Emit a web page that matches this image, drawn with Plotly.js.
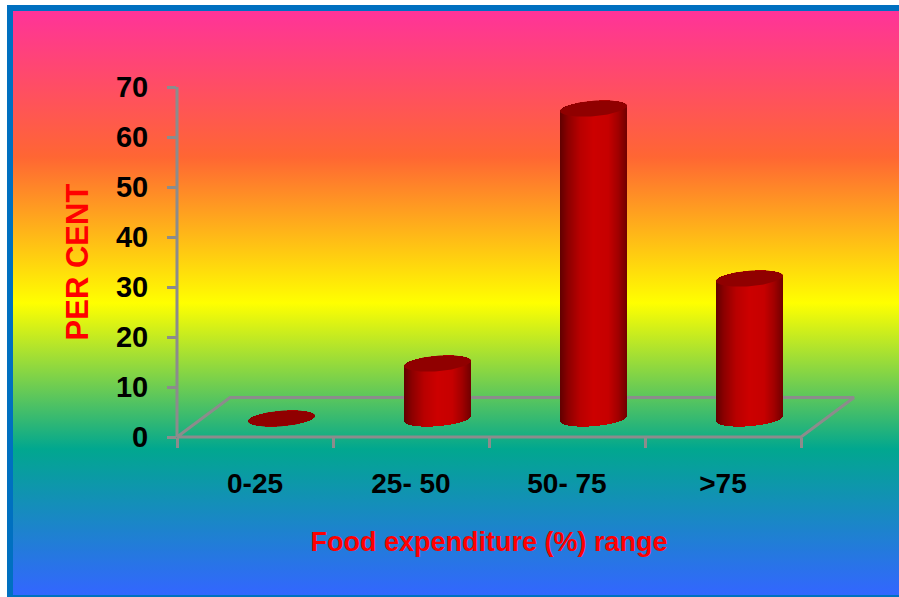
<!DOCTYPE html>
<html>
<head>
<meta charset="utf-8">
<script src="https://cdn.plot.ly/plotly-3.0.1.min.js"></script>
<style>
  html, body { margin: 0; padding: 0; background: #fff; }
  #frame {
    position: absolute; left: 7px; top: 5px; width: 892px; height: 592px;
    box-sizing: border-box; background: #0070c0;
  }
  #rainbow {
    position: absolute; left: 5.5px; top: 6px; right: 0; bottom: 2px;
    background: linear-gradient(to bottom, #ff3399 0%, #ff6633 25%, #ffff00 50%, #01a78f 75%, #3366ff 100%);
  }
  #chart { position: absolute; left: 0; top: 0; width: 899px; height: 597px; }
</style>
</head>
<body>
<div id="frame"><div id="rainbow"></div></div>
<div id="chart"></div>
<script>
// Share of households by food expenditure range
var categories = ['0-25', '25- 50', '50- 75', '>75'];
var percentValues = [0, 11, 62, 28];
var yTickValues = [0, 10, 20, 30, 40, 50, 60, 70];

var W = 899, H = 597;
// Pixel box of the front plane, and the shift of the cylinders into the floor depth
var left = 177, right = 801, top_ = 87, bottom = 437;
var shiftX = 26.5, shiftY = 18.5, depthX = 53, depthY = 39.5;
var radiusX = 33.5, radiusY = 7.7, tilt = -2.6;

var pxPerCat = (right - left) / categories.length;
var pxPerUnit = (bottom - top_) / 70;

// Horizontal shading across a cylinder, from its left rim to its right rim
var shadeStops = [[0, [96, 0, 0]], [0.12, [140, 0, 0]], [0.3, [184, 0, 0]], [0.5, [204, 0, 0]],
                  [0.72, [198, 0, 0]], [0.87, [160, 0, 0]], [1, [112, 0, 0]]];
function shade(f) {
  for (var i = 1; i < shadeStops.length; i++) {
    if (f <= shadeStops[i][0]) {
      var a = shadeStops[i - 1], b = shadeStops[i], t = (f - a[0]) / (b[0] - a[0]);
      return 'rgb(' + [0, 1, 2].map(function (k) { return Math.round(a[1][k] + (b[1][k] - a[1][k]) * t); }).join(',') + ')';
    }
  }
  return 'rgb(112,0,0)';
}

var grey = '#8c8c8c';
var traces = [];

// Invisible trace that puts the category labels on the front axis
traces.push({
  type: 'scatter', mode: 'markers', x: categories, y: percentValues,
  xaxis: 'x', yaxis: 'y', marker: { opacity: 0 }, hoverinfo: 'skip', showlegend: false
});

// Wall edge and floor outline, drawn behind the cylinders
var floorX0 = -0.5, floorX1 = categories.length - 0.5;
var backDX = depthX / pxPerCat, backDY = depthY / pxPerUnit;
traces.push({
  type: 'scatter', mode: 'lines',
  x: [floorX0, floorX0, floorX0 + backDX, floorX1 + backDX, floorX1, floorX0],
  y: [70, 0, backDY, backDY, 0, 0],
  xaxis: 'x2', yaxis: 'y2', line: { color: grey, width: 3 }, hoverinfo: 'skip', showlegend: false
});

// Each cylinder body is a bundle of one-pixel bars, with rounded ends from the ellipse
percentValues.forEach(function (value, c) {
  var xs = [], bases = [], heights = [], colors = [];
  for (var dx = -radiusX + 0.5; dx < radiusX; dx += 1) {
    var u = dx / radiusX;
    var arc = radiusY * Math.sqrt(1 - u * u);
    var skew = tilt * u;
    xs.push(c + dx / pxPerCat);
    var low = -(arc + skew) / pxPerUnit;          // lower rim of the base, in percent units
    var high = value + (arc - skew) / pxPerUnit;  // upper rim of the top
    bases.push(low);
    heights.push(high - low);
    colors.push(shade((u + 1) / 2));
  }
  traces.push({
    type: 'bar', x: xs, y: heights, base: bases, width: 1.25 / pxPerCat,
    xaxis: 'x3', yaxis: 'y3',
    marker: { color: colors, line: { width: 0 } },
    hoverinfo: 'skip', showlegend: false
  });
  // Dark top face of the cylinder
  var capX = [], capY = [];
  for (var d = 0; d <= 72; d++) {
    var t = d / 72 * 2 * Math.PI;
    var ux = Math.cos(t);
    capX.push(c + radiusX * ux / pxPerCat);
    capY.push(value + (radiusY * Math.sin(t) - tilt * ux) / pxPerUnit);
  }
  traces.push({
    type: 'scatter', mode: 'lines', x: capX, y: capY, fill: 'toself',
    fillcolor: '#900000', line: { width: 0, color: '#900000' },
    xaxis: 'x3', yaxis: 'y3', hoverinfo: 'skip', showlegend: false
  });
});

// The helper axes span the whole canvas at the same scale as the front axes,
// so the floor and the cylinders can reach past the front plane
function canvasRangeX(offset) {
  return [(0 - left - offset) / pxPerCat - 0.5, (W - left - offset) / pxPerCat - 0.5];
}
function canvasRangeY(offset) {
  return [(bottom - offset - H) / pxPerUnit, (bottom - offset) / pxPerUnit];
}

var layout = {
  width: W, height: H, margin: { l: 0, r: 0, t: 0, b: 0 },
  paper_bgcolor: 'rgba(0,0,0,0)', plot_bgcolor: 'rgba(0,0,0,0)',
  showlegend: false, barmode: 'overlay', bargap: 0,
  font: { family: 'Liberation Sans, Arial, sans-serif', color: '#000' },
  xaxis: {
    type: 'category', categoryorder: 'array', categoryarray: categories,
    domain: [left / W, right / W], range: [-0.5, 3.5], anchor: 'y',
    tickson: 'boundaries', ticks: 'outside', ticklen: 10, tickwidth: 3, tickcolor: grey,
    showline: false, showgrid: false, zeroline: false, ticklabelstandoff: 27,
    tickfont: { size: 28, color: '#000', weight: 700 },
    title: { text: 'Food expenditure (%) range', standoff: 34,
             font: { size: 27, color: '#ff0000', weight: 700 } }
  },
  yaxis: {
    domain: [(H - bottom) / H, (H - top_) / H], range: [0, 70], anchor: 'x',
    tickmode: 'array', tickvals: yTickValues, ticks: 'outside', ticklen: 9, tickwidth: 3, tickcolor: grey,
    showline: false, showgrid: false, zeroline: false, ticklabelstandoff: 13,
    tickfont: { size: 29, color: '#000', weight: 700 },
    title: { text: 'PER CENT', standoff: 18,
             font: { size: 31, color: '#ff0000', weight: 700 } }
  },
  xaxis2: { domain: [0, 1], range: canvasRangeX(0), anchor: 'y2', visible: false, type: 'linear' },
  yaxis2: { domain: [0, 1], range: canvasRangeY(0), anchor: 'x2', visible: false },
  xaxis3: { domain: [0, 1], range: canvasRangeX(shiftX), anchor: 'y3', visible: false, type: 'linear' },
  yaxis3: { domain: [0, 1], range: canvasRangeY(shiftY), anchor: 'x3', visible: false }
};

Plotly.newPlot('chart', traces, layout, { staticPlot: true, displayModeBar: false });
</script>
</body>
</html>
